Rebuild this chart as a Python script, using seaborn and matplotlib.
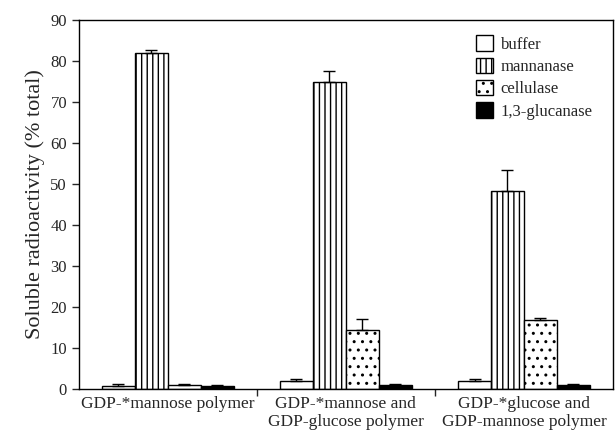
import matplotlib
matplotlib.use("Agg")
import matplotlib.pyplot as plt
import numpy as np
import pandas as pd
import seaborn as sns

sns.set_style("white")
plt.rcParams['font.family'] = ['Liberation Serif', 'DejaVu Serif']
plt.rcParams['hatch.linewidth'] = 1.0

groups = ['GDP-*mannose polymer',
          'GDP-*mannose and\nGDP-glucose polymer',
          'GDP-*glucose and\nGDP-mannose polymer']
treatments = ['buffer', 'mannanase', 'cellulase', '1,3-glucanase']
buffer_vals = [0.8, 2.0, 2.0]
mannanase_vals = [81.9, 75.0, 48.3]
cellulase_vals = [1.0, 14.3, 16.9]
glucanase_vals = [0.7, 1.0, 1.0]
buffer_err = [0.3, 0.5, 0.5]
mannanase_err = [0.7, 2.5, 5.2]
cellulase_err = [0.3, 2.7, 0.5]
glucanase_err = [0.2, 0.3, 0.2]

vals = [buffer_vals, mannanase_vals, cellulase_vals, glucanase_vals]
errs = [buffer_err, mannanase_err, cellulase_err, glucanase_err]
df = pd.DataFrame({
    'group': [g for t in treatments for g in groups],
    'treatment': [t for t in treatments for g in groups],
    'value': [v for vs in vals for v in vs],
})

fig = plt.figure(figsize=(6.16, 4.37), dpi=100)
ax = fig.add_axes([0.128, 0.110, 0.867, 0.844])

ax = sns.barplot(data=df, x='group', y='value', hue='treatment',
                 hue_order=treatments, order=groups, width=0.74,
                 errorbar=None, ax=ax, legend=False,
                 edgecolor='black', linewidth=1.0)

faces = ['white', 'white', 'white', 'black']
hatches = [None, '|||', '..', None]
for cont, fc, h, err in zip(ax.containers, faces, hatches, errs):
    for p in cont:
        p.set_facecolor(fc)
        p.set_edgecolor('black')
        if h:
            p.set_hatch(h)
    xs = [p.get_x() + p.get_width() / 2 for p in cont]
    hs = [p.get_height() for p in cont]
    ax.errorbar(xs, hs, yerr=[np.zeros(len(err)), err], fmt='none',
                ecolor='black', elinewidth=1.0, capsize=4, capthick=1.0)

ax.set_ylim(0, 90)
ax.set_xlim(-0.5, 2.5)
ax.set_yticks(range(0, 91, 10))
ax.set_xlabel(None)
ax.set_ylabel('Soluble radioactivity (% total)', fontsize=16)
ax.tick_params(axis='y', direction='out', length=5, width=1, labelsize=12, left=True)
ax.tick_params(axis='x', which='major', length=0, labelsize=12.5, pad=5)
ax.set_xticks([0.5, 1.5], minor=True)
ax.tick_params(axis='x', which='minor', direction='out', length=5, width=1, bottom=True)
for s in ax.spines.values():
    s.set_color('black')
    s.set_linewidth(1.0)

handles = [plt.Rectangle((0, 0), 1, 1, facecolor=fc, edgecolor='black',
                         hatch=h, linewidth=1.0)
           for fc, h in zip(faces, hatches)]
ax.legend(handles, treatments, loc='upper right', frameon=False,
          fontsize=12, handlelength=1.05, handleheight=1.05,
          handletextpad=0.45, labelspacing=0.3,
          bbox_to_anchor=(0.99, 1.0))

fig.savefig('out.png', dpi=100)
plt.close(fig)
